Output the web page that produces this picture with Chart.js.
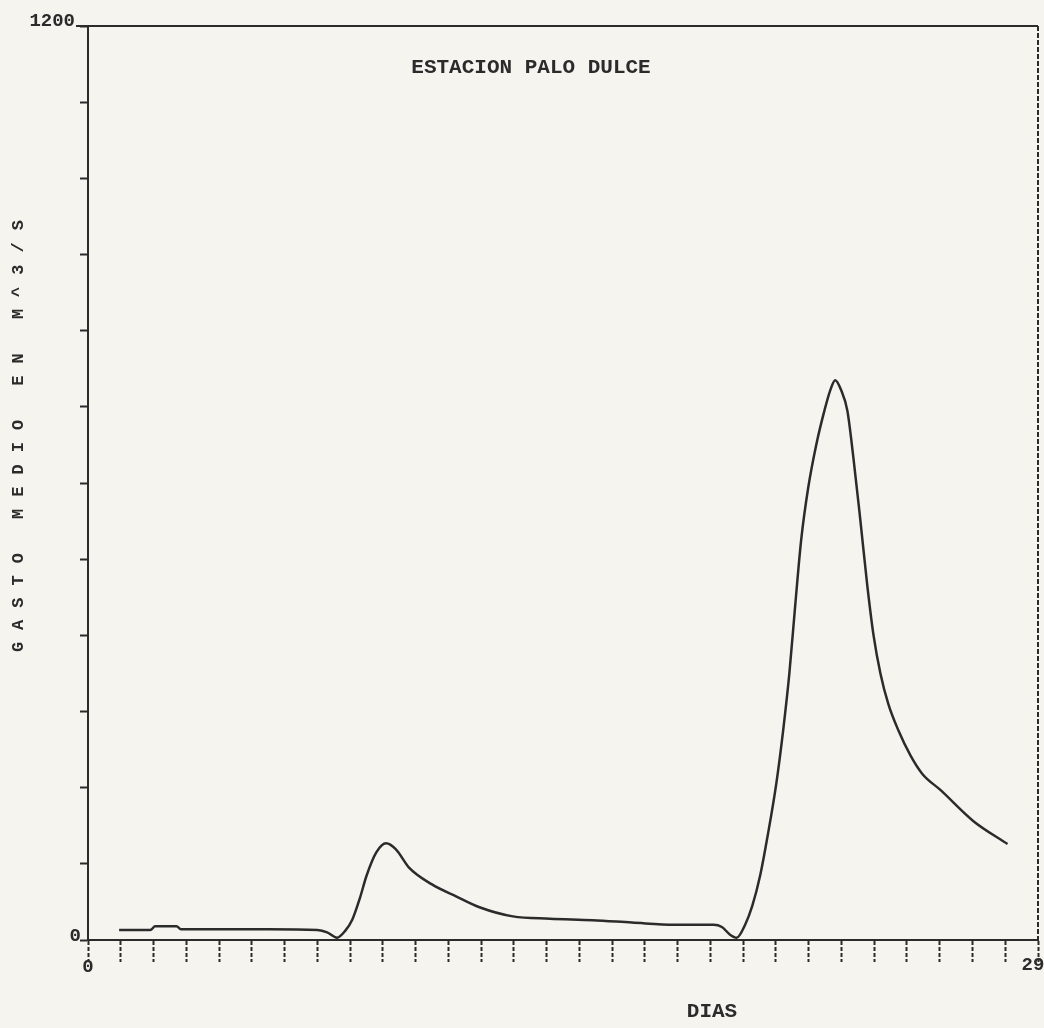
<!DOCTYPE html>
<html>
<head>
<meta charset="utf-8">
<title>Estacion Palo Dulce</title>
<script src="https://cdn.jsdelivr.net/npm/chart.js"></script>
<style>
  html, body { margin: 0; padding: 0; background: #f5f4ef; }
  #wrap { width: 1044px; height: 1028px; }
</style>
</head>
<body>
<div id="wrap"><canvas id="hidro" width="1044" height="1028"></canvas></div>
<script>
// Hidrograma - gasto medio diario, Estacion Palo Dulce
const dias = [0.95, 1.9, 2.05, 2.7, 2.85, 4, 5.5, 7.0, 7.3, 7.6,
  7.85, 8.07, 8.3, 8.5, 8.8, 9.1, 9.4, 9.8, 10.5, 11.25,
  11.95, 12.97, 14.1, 15.4, 16.6, 17.9, 19.1, 19.35, 19.6, 19.8,
  20.06, 20.28, 20.52, 20.76, 21.01, 21.22, 21.41, 21.59, 21.77, 21.99,
  22.23, 22.48, 22.66, 22.81, 22.99, 23.18, 23.36, 23.58, 23.79, 23.98,
  24.19, 24.43, 24.74, 25.11, 25.47, 26.02, 27.03, 28.07];
const gasto = [13, 13, 18, 18, 14, 14, 14, 13, 10, 3,
  12, 27, 55, 84, 115, 127, 119, 95, 73, 57,
  43, 31, 28, 26, 23, 20, 20, 17, 7, 3,
  20, 45, 85, 140, 205, 275, 350, 440, 525, 595,
  650, 695, 722, 735, 722, 695, 635, 550, 465, 400,
  350, 310, 275, 242, 218, 197, 156, 126];

const yTickLabels = ['0', '1200'];
const xTickLabels = ['0', '29'];
const titulo = 'ESTACION PALO DULCE';
const ejeY = 'GASTO MEDIO EN M^3/S';
const ejeX = 'DIAS';

const ink = '#2b2b2b';
const mono = '"Liberation Mono", "DejaVu Sans Mono", monospace';

// draws the frame bits and the typed labels like the old plotter output
const paperText = {
  id: 'paperText',
  afterDraw(chart) {
    const { ctx, chartArea: a } = chart;
    ctx.save();
    ctx.strokeStyle = ink;
    ctx.lineWidth = 2;
    ctx.beginPath();
    ctx.moveTo(a.left - 12, a.top);
    ctx.lineTo(a.right, a.top);
    ctx.stroke();
    ctx.setLineDash([5, 2]);
    ctx.beginPath();
    ctx.moveTo(a.right, a.top);
    ctx.lineTo(a.right, a.bottom);
    ctx.stroke();
    ctx.setLineDash([]);

    ctx.fillStyle = ink;
    ctx.font = 'bold 21px ' + mono;
    ctx.textAlign = 'center';
    ctx.textBaseline = 'middle';
    ctx.fillText(titulo, 531, a.top + 42);
    ctx.fillText(ejeX, 712, 1012);

    ctx.font = 'bold 19px ' + mono;
    ctx.textAlign = 'right';
    ctx.textBaseline = 'bottom';
    ctx.fillText(yTickLabels[1], a.left - 13, a.top + 5);
    ctx.textBaseline = 'middle';
    ctx.fillText(yTickLabels[0], a.left - 7, a.bottom - 4);
    ctx.textAlign = 'center';
    ctx.textBaseline = 'top';
    ctx.fillText(xTickLabels[0], a.left, a.bottom + 18);
    ctx.fillText(xTickLabels[1], a.right - 5, a.bottom + 16);

    // vertical title, wide letter pitch
    ctx.font = 'bold 17px ' + mono;
    ctx.textBaseline = 'middle';
    for (let i = 0; i < ejeY.length; i++) {
      ctx.save();
      ctx.translate(19, 647 - i * 22.2);
      ctx.rotate(-Math.PI / 2);
      ctx.fillText(ejeY[i], 0, 0);
      ctx.restore();
    }
    ctx.restore();
  }
};

new Chart(document.getElementById('hidro'), {
  type: 'line',
  data: {
    datasets: [{
      label: 'Gasto medio',
      data: dias.map((d, i) => ({ x: d, y: gasto[i] })),
      borderColor: ink,
      borderWidth: 2.5,
      pointRadius: 0,
      fill: false,
      cubicInterpolationMode: 'monotone'
    }]
  },
  options: {
    responsive: false,
    animation: false,
    layout: { padding: { left: 80, right: 6, top: 26, bottom: 66 } },
    plugins: {
      legend: { display: false },
      tooltip: { enabled: false }
    },
    scales: {
      x: {
        type: 'linear',
        min: 0,
        max: 29,
        ticks: { display: false, stepSize: 1 },
        grid: {
          drawOnChartArea: false,
          drawTicks: true,
          tickLength: 22,
          tickColor: ink,
          tickWidth: 2,
          tickBorderDash: [4, 2]
        },
        border: { display: true, color: ink, width: 2 }
      },
      y: {
        min: 0,
        max: 1200,
        ticks: { display: false, stepSize: 100 },
        grid: {
          drawOnChartArea: false,
          drawTicks: true,
          tickLength: 8,
          tickColor: ink,
          tickWidth: 2
        },
        border: { display: true, color: ink, width: 2, dash: [5, 2] }
      }
    }
  },
  plugins: [paperText]
});
</script>
</body>
</html>
